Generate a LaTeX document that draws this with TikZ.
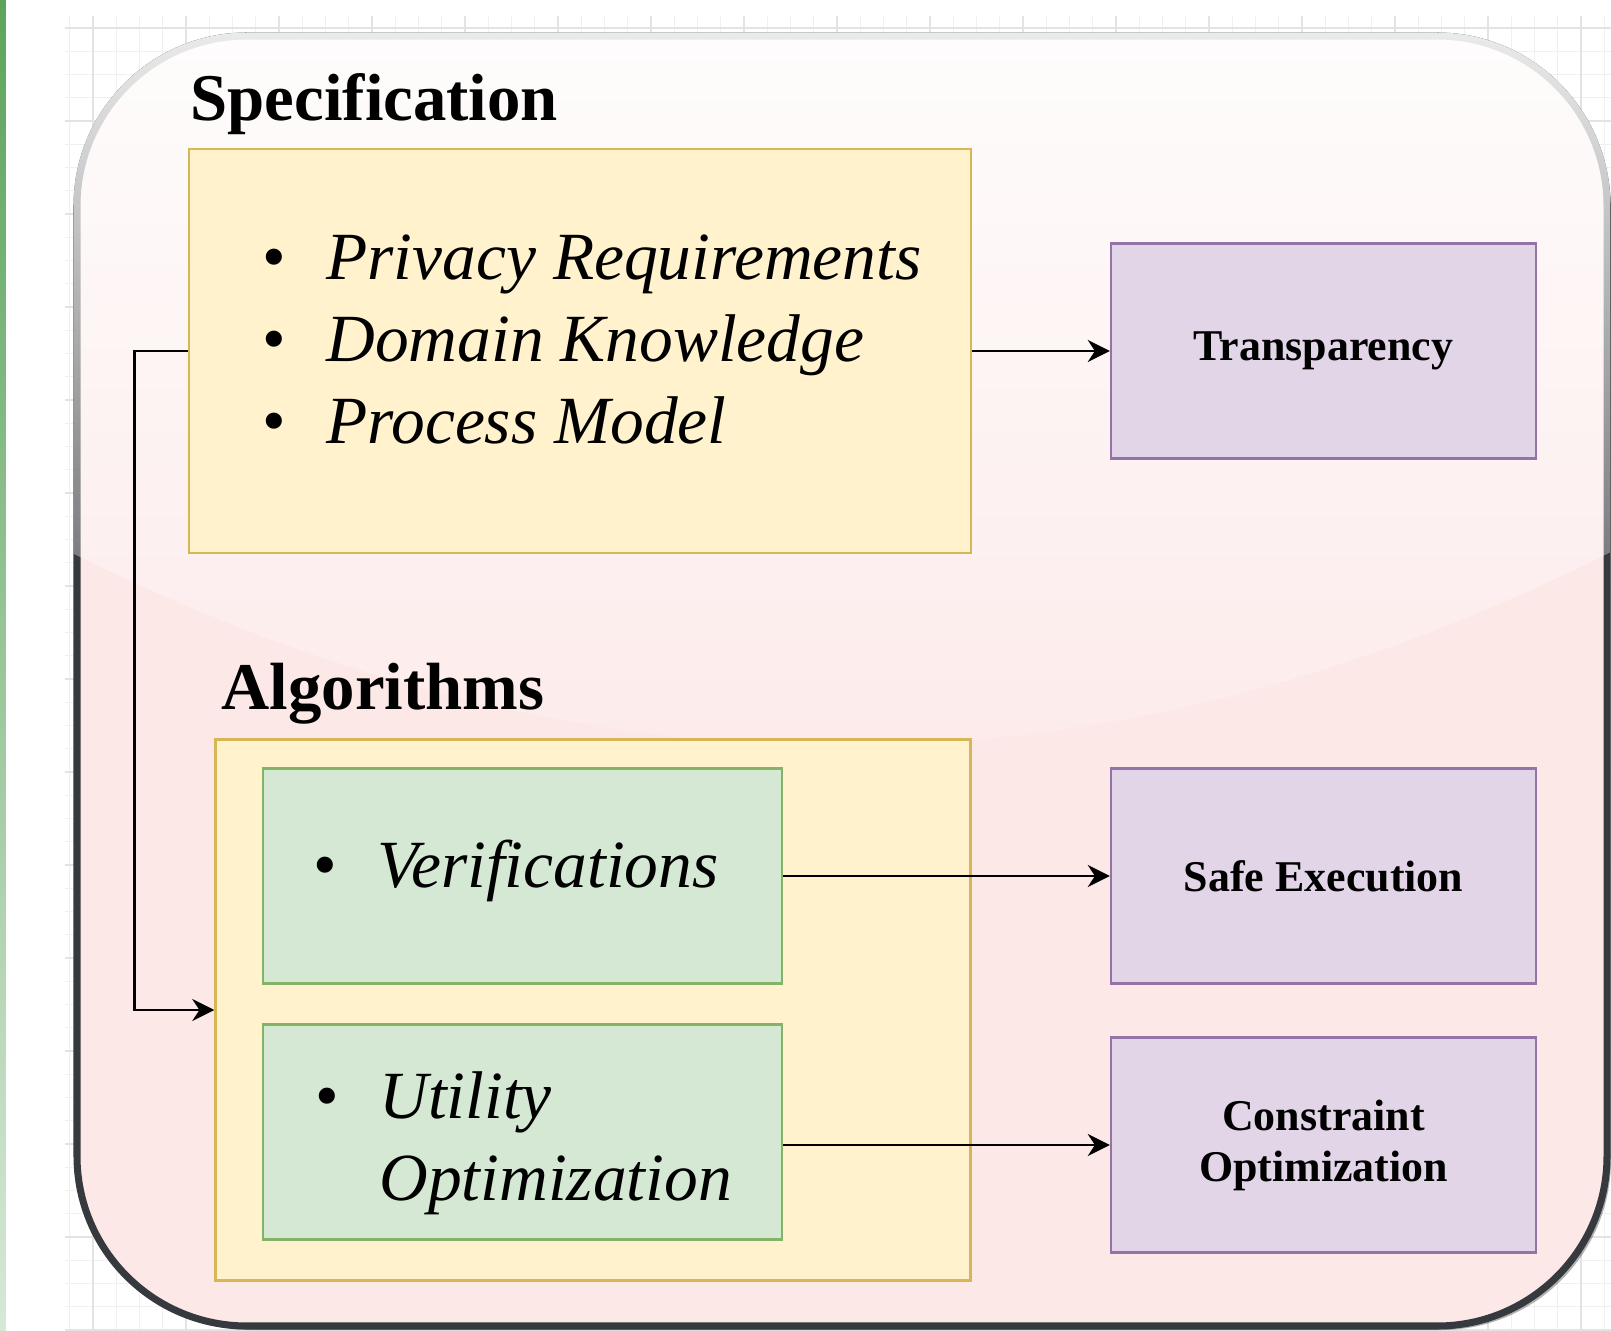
\documentclass[tikz,border=0pt]{standalone}
\usepackage{fontspec}
\setmainfont{Liberation Serif}
\usetikzlibrary{arrows.meta,calc,positioning,fadings}

\definecolor{specfill}{HTML}{FFF2CC}
\definecolor{specline}{HTML}{D6B656}
\definecolor{algfill}{HTML}{D5E8D4}
\definecolor{algline}{HTML}{82B366}
\definecolor{goalfill}{HTML}{E1D5E7}
\definecolor{goalline}{HTML}{9673A6}
\definecolor{panelfill}{RGB}{253,232,232}
\definecolor{panelline}{HTML}{36393D}
\definecolor{stripgreen}{RGB}{92,164,92}

\tikzfading[name=glassfade, top color=transparent!10, bottom color=transparent!92]

\tikzset{
  yellowbox/.style={draw=specline, fill=specfill, line width=0.7pt, inner sep=0pt},
  greenbox/.style={draw=algline, fill=algfill, line width=0.7pt, inner sep=0pt,
    minimum width=5.19cm, minimum height=2.15cm},
  goalbox/.style={draw=goalline, fill=goalfill, line width=0.7pt, align=center,
    minimum width=4.25cm, minimum height=2.15cm,
    font=\fontsize{12.5}{14.5}\selectfont\bfseries},
  itemlist/.style={anchor=west, inner sep=0pt, font=\fontsize{19.2}{23.3}\selectfont},
  heading/.style={anchor=base west, inner sep=0pt, font=\fontsize{19}{23}\selectfont\bfseries},
  flow/.style={line width=0.8pt, -{Stealth[length=2.2mm,width=2.2mm]}},
}

\newcommand{\bulletlist}[1]{\begin{tabular}{@{}l@{\hspace{0.40cm}}l@{}}#1\end{tabular}}

\begin{document}
\begin{tikzpicture}
  % page and background grid
  \useasboundingbox[fill=white] (0,0) rectangle (16.11,13.30);
  \draw[black!6, line width=0.4pt, step=0.2325] (0.65,0) grid (16.11,13.14);
  \draw[black!11, line width=0.4pt, step=0.93] (0.65,0) grid (16.11,13.14);
  \shade[top color=stripgreen, bottom color=stripgreen!25] (0,0) rectangle (0.06,13.30);

  % outer panel with shadow and glass
  \fill[black, opacity=0.3, rounded corners=1.7cm] (0.81,0.0) rectangle (16.11,12.90);
  \draw[panelline, fill=panelfill, line width=2pt, rounded corners=1.7cm] (0.77,0.04) rectangle (16.07,12.94);
  \begin{scope}
    \clip[rounded corners=1.735cm] (0.735,0.005) rectangle (16.105,12.975);
    \fill[white, path fading=glassfade] (0.7,12.99) -- (16.11,12.99) -- (16.11,7.78)
      .. controls (10.97,5.20) and (5.87,5.20) .. (0.7,7.78) -- cycle;
  \end{scope}

  % headings
  \node[heading] (spectitle) at (1.90,12.09) {Specification};
  \node[heading] (algtitle) at (2.21,6.21) {Algorithms};

  % specification
  \node[yellowbox, minimum width=7.82cm, minimum height=4.04cm] (spec) at (5.80,9.79) {};
  \node[itemlist] (speclist) at (2.62,9.85) {\bulletlist{%
      \textbullet & \textit{Privacy Requirements}\\
      \textbullet & \textit{Domain Knowledge}\\
      \textbullet & \textit{Process Model}}};

  % algorithms
  \node[yellowbox, minimum width=7.55cm, minimum height=5.41cm] (algo) at (5.93,3.20) {};
  \node[greenbox] (verif) at (5.225,4.54) {};
  \node[greenbox] (util) at (5.225,1.98) {};
  \node[itemlist] (veriflist) at (3.13,4.59) {\bulletlist{\textbullet & \textit{Verifications}}};
  \node[itemlist] (utillist) at (3.15,1.87) {\bulletlist{%
      \textbullet & \textit{Utility}\\
                  & \textit{Optimization}}};

  % goals
  \node[goalbox] (transp) at (13.235,9.79) {Transparency};
  \node[goalbox] (safe) at (13.235,4.54) {Safe Execution};
  \node[goalbox] (constr) at (13.235,1.85) {Constraint\\Optimization};

  % connectors
  \draw[flow] (spec.east) -- (transp.west);
  \draw[flow] (verif.east) -- (safe.west);
  \draw[flow] (util.east |- constr.west) -- (constr.west);
  \draw[flow] (spec.west) -- ++(-0.53,0) |- (algo.west);
\end{tikzpicture}
\end{document}
